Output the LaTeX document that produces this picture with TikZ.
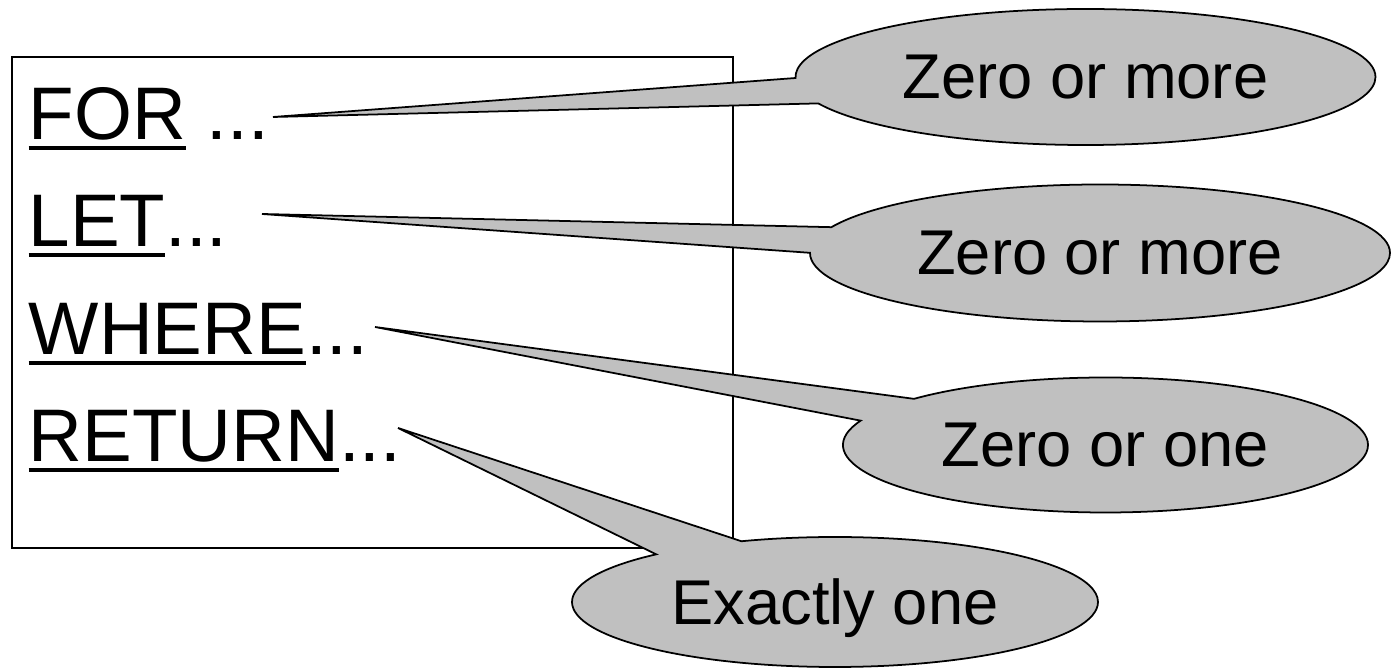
\documentclass[tikz,border=0pt]{standalone}
\usepackage{fontspec}
\setmainfont{Liberation Sans}
\usetikzlibrary{shapes.callouts}
\definecolor{r192g192b192}{rgb}{0.752941,0.752941,0.752941}
% keyword with its underline
\newcommand{\keyword}[1]{\setbox0\hbox{#1}\rlap{\rule[-0.10cm]{\wd0}{0.035cm}}\box0\relax}
\begin{document}
\begin{tikzpicture}[
    clause/.style={anchor=base west, inner sep=0pt, font=\fontsize{21.2}{26}\selectfont},
    bubble/.style={ellipse callout, draw, line width=0.5pt, fill=r192g192b192,
      callout pointer arc=22, inner sep=0pt, text depth=0pt,
      font=\fontsize{18}{22}\selectfont}
  ]
  \useasboundingbox (0,0) rectangle (13.94,6.70);

  % Drawing frame
  \draw [line width=0.6pt] (0.12,1.22) rectangle (7.33,6.13);

  % Drawing clauses
  \node [clause] (for) at (0.28,5.30) {\keyword{FOR} ...};
  \node [clause] (let) at (0.28,4.23) {\keyword{LET}...};
  \node [clause] (where) at (0.28,3.15) {\keyword{WHERE}...};
  \node [clause] (return) at (0.28,2.08) {\keyword{RETURN}...};

  % Pointer tips
  \coordinate (forTip) at (2.73,5.53);
  \coordinate (letTip) at (2.62,4.56);
  \coordinate (whereTip) at (3.75,3.43);
  \coordinate (returnTip) at (3.98,2.42);

  % Drawing callouts
  \node [bubble, minimum width=5.80cm, minimum height=1.36cm,
    callout absolute pointer={(forTip)}] (forNote) at (10.855,5.93) {Zero or more};
  \node [bubble, minimum width=5.80cm, minimum height=1.37cm,
    callout absolute pointer={(letTip)}] (letNote) at (11.00,4.17) {Zero or more};
  \node [bubble, minimum width=5.25cm, minimum height=1.35cm,
    callout absolute pointer={(whereTip)}] (whereNote) at (11.055,2.25) {Zero or one};
  \node [bubble, minimum width=5.26cm, minimum height=1.30cm,
    callout absolute pointer={(returnTip)}] (returnNote) at (8.35,0.68) {Exactly one};
\end{tikzpicture}
\end{document}
